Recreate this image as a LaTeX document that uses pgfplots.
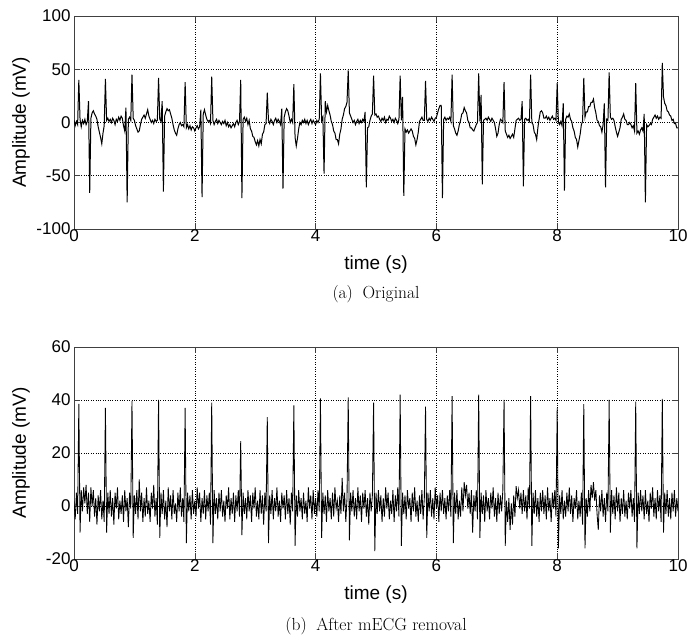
\documentclass[border=0pt]{standalone}
\usepackage{fontspec}
\usepackage{pgfplots}
\usepackage{pgfplotstable}
\pgfplotsset{compat=1.18}
\newfontfamily\helv{Liberation Sans}

% Original signal, sampled every 0.02 s from t = 0 to 10 s
\pgfplotstableread[row sep=\\, header=false]{
2\\ -3\\ 1\\ -2\\ 40\\ 3\\ -4\\ 2\\ -1\\ 3\\
-2\\ 1\\ 20\\ -66\\ 4\\ 9\\ 11\\ 8\\ 6\\ 3\\
-4\\ -9\\ -14\\ -20\\ -10\\ -3\\ 41\\ 2\\ 4\\ 1\\
3\\ 0\\ 4\\ 2\\ -2\\ 3\\ 1\\ 5\\ 2\\ 6\\
4\\ -3\\ -8\\ 14\\ -75\\ 3\\ 5\\ 2\\ 45\\ 4\\
2\\ -3\\ -6\\ -9\\ -8\\ -2\\ 3\\ 5\\ 7\\ 4\\
8\\ 12\\ 6\\ 3\\ 0\\ 2\\ -1\\ 3\\ 1\\ 2\\
42\\ 3\\ 1\\ 20\\ -65\\ 6\\ 10\\ 13\\ 11\\ 12\\
8\\ 4\\ -2\\ -7\\ -10\\ -12\\ -6\\ -2\\ 0\\ -3\\
-2\\ -4\\ 38\\ -5\\ -2\\ -6\\ -3\\ -7\\ -4\\ -5\\
-8\\ -5\\ -3\\ -6\\ -4\\ 12\\ -70\\ 8\\ 12\\ 7\\
3\\ 1\\ 2\\ -1\\ 43\\ 2\\ -2\\ 1\\ 3\\ -1\\
2\\ 0\\ -2\\ 1\\ -1\\ 2\\ -3\\ 0\\ -4\\ -2\\
-5\\ -3\\ -1\\ -4\\ 0\\ 2\\ -2\\ 1\\ 40\\ -71\\
3\\ 5\\ 1\\ 4\\ -2\\ 2\\ -6\\ -8\\ -13\\ -14\\
-18\\ -21\\ -17\\ -22\\ -16\\ -20\\ -11\\ -9\\ -2\\ -1\\
28\\ 2\\ -1\\ 3\\ 1\\ -2\\ 2\\ 4\\ 0\\ 3\\
1\\ -2\\ 13\\ -62\\ 5\\ 10\\ 13\\ 11\\ 6\\ 0\\
3\\ 0\\ 36\\ -14\\ -22\\ -15\\ -6\\ 0\\ -2\\ 2\\
0\\ 3\\ -1\\ 2\\ -2\\ 1\\ 3\\ -1\\ 2\\ 0\\
-2\\ 2\\ 0\\ 3\\ 46\\ 2\\ 5\\ -48\\ 20\\ 10\\
16\\ 11\\ 7\\ 1\\ -2\\ -8\\ -10\\ -16\\ -16\\ -20\\
-11\\ -6\\ 3\\ 7\\ 13\\ 15\\ 19\\ 49\\ 9\\ 6\\
3\\ 0\\ 2\\ -2\\ 1\\ 3\\ -1\\ 2\\ 0\\ 3\\
1\\ 10\\ -61\\ -5\\ -4\\ 2\\ 6\\ 8\\ 44\\ 7\\
8\\ 5\\ 6\\ 3\\ 1\\ 4\\ 2\\ 5\\ 0\\ 3\\
2\\ 6\\ 4\\ 1\\ 3\\ 0\\ 4\\ 2\\ -1\\ 3\\
44\\ 2\\ 24\\ -69\\ -6\\ -9\\ -7\\ -10\\ -8\\ -6\\
-8\\ -13\\ -15\\ -21\\ -16\\ -9\\ 1\\ 3\\ 5\\ 2\\
2\\ 39\\ 3\\ 1\\ 4\\ 2\\ 5\\ 3\\ 1\\ 4\\
5\\ 9\\ 13\\ 16\\ 16\\ -71\\ 3\\ 5\\ 2\\ 4\\
3\\ 5\\ 1\\ 45\\ -3\\ -6\\ -10\\ -12\\ -8\\ -2\\
2\\ 8\\ 9\\ 14\\ 11\\ 9\\ 2\\ 0\\ -5\\ -5\\
-7\\ -8\\ -5\\ -2\\ 0\\ 46\\ 1\\ 26\\ -58\\ 2\\
3\\ 4\\ 2\\ 5\\ 3\\ 1\\ 4\\ 2\\ 0\\ -6\\
-13\\ -10\\ -2\\ 3\\ 2\\ 0\\ 38\\ -8\\ -11\\ -14\\
-12\\ -15\\ -13\\ -11\\ -14\\ -6\\ 2\\ 3\\ 4\\ 2\\
3\\ 20\\ -60\\ 3\\ 4\\ 2\\ 3\\ 1\\ 45\\ 0\\
-2\\ -9\\ -11\\ -16\\ -5\\ 3\\ 10\\ 11\\ 9\\ 4\\
4\\ 6\\ 3\\ 5\\ 2\\ 4\\ 6\\ 3\\ 4\\ 2\\
37\\ 0\\ -2\\ 1\\ -3\\ 18\\ -64\\ 3\\ 6\\ 5\\
8\\ 3\\ 1\\ -5\\ -8\\ -14\\ -16\\ -23\\ -17\\ -11\\
-2\\ 1\\ 42\\ 5\\ 10\\ 10\\ 15\\ 15\\ 19\\ 19\\
22\\ 14\\ 9\\ 2\\ 1\\ -3\\ -4\\ -9\\ -2\\ 18\\
-61\\ 3\\ 2\\ 47\\ 5\\ 3\\ 4\\ 2\\ -4\\ -9\\
-13\\ -9\\ -5\\ 3\\ 5\\ 8\\ 3\\ 2\\ -2\\ -2\\
0\\ -2\\ -5\\ -3\\ -8\\ 37\\ -10\\ -8\\ -11\\ -7\\
-5\\ -8\\ 8\\ -75\\ -2\\ -4\\ -3\\ -1\\ -2\\ 3\\
5\\ 7\\ 4\\ 6\\ 3\\ 5\\ 4\\ 56\\ 24\\ 18\\
16\\ 11\\ 10\\ 7\\ 6\\ 2\\ 3\\ -1\\ -1\\ -5\\
-5\\
}\topdata

% After mECG removal, sampled every 0.02 s from t = 0 to 10 s
\pgfplotstableread[row sep=\\, header=false]{
2\\ -5\\ 5\\ -3\\ 38.5\\ -10\\ 6\\ -2\\ 7\\ 1\\
8\\ -3\\ 5\\ -6\\ 7\\ 0\\ 6\\ -4\\ 3\\ -7\\
4\\ -2\\ 6\\ -5\\ 2\\ -6\\ 37\\ -10\\ 5\\ -3\\
6\\ -4\\ 3\\ -7\\ 5\\ -1\\ 7\\ -5\\ 2\\ -3\\
4\\ -6\\ 6\\ -2\\ 3\\ -8\\ 5\\ -1\\ 39.6\\ -12\\
4\\ -3\\ 6\\ -5\\ 10\\ -2\\ 5\\ -6\\ 3\\ -4\\
7\\ -3\\ 2\\ -6\\ 5\\ -1\\ 8\\ -4\\ 3\\ -7\\
40\\ -12\\ 5\\ -3\\ 6\\ -5\\ 2\\ -8\\ 7\\ -2\\
4\\ -5\\ 6\\ -3\\ 1\\ -6\\ 5\\ -2\\ 7\\ -4\\
3\\ -6\\ 37\\ -14\\ 5\\ -2\\ 4\\ -5\\ 6\\ -3\\
2\\ -4\\ 7\\ -1\\ 5\\ -6\\ 3\\ -3\\ 6\\ -5\\
4\\ -2\\ 5\\ -7\\ 39\\ -14\\ 6\\ -3\\ 3\\ -5\\
5\\ -2\\ 6\\ -4\\ 2\\ -6\\ 4\\ -1\\ 7\\ -5\\
3\\ -3\\ 5\\ -6\\ 4\\ -2\\ 6\\ -4\\ 24.5\\ -11\\
5\\ -3\\ 3\\ -5\\ 6\\ -2\\ 4\\ -6\\ 5\\ -1\\
7\\ -4\\ 2\\ -5\\ 6\\ -3\\ 4\\ -7\\ 5\\ -2\\
33.5\\ -14\\ 4\\ -3\\ 6\\ -5\\ 3\\ -2\\ 7\\ -4\\
2\\ -6\\ 5\\ -1\\ 4\\ -5\\ 6\\ -3\\ 3\\ -7\\
5\\ -2\\ 38\\ -15\\ 4\\ -4\\ 6\\ -2\\ 3\\ -5\\
5\\ -3\\ 2\\ -6\\ 7\\ -1\\ 4\\ -5\\ 6\\ -3\\
3\\ -4\\ 6\\ -2\\ 40.6\\ -12\\ 5\\ -3\\ 4\\ -6\\
6\\ -2\\ 3\\ -5\\ 5\\ -4\\ 7\\ -1\\ 2\\ -6\\
4\\ -3\\ 10.6\\ -2\\ 5\\ -6\\ 3\\ 41\\ -13\\ 5\\
-2\\ 6\\ -4\\ 3\\ -5\\ 7\\ -2\\ 4\\ -6\\ 5\\
-1\\ 6\\ -4\\ 3\\ -7\\ 5\\ -2\\ 4\\ 39\\ -17\\
5\\ -3\\ 6\\ -2\\ 4\\ -6\\ 3\\ -4\\ 7\\ -1\\
5\\ -5\\ 2\\ -3\\ 6\\ -6\\ 4\\ -2\\ 7\\ -4\\
42\\ -15\\ 5\\ -3\\ 4\\ -5\\ 6\\ -1\\ 3\\ -6\\
5\\ -2\\ 7\\ -4\\ 2\\ -6\\ 4\\ -3\\ 6\\ -5\\
3\\ 37.5\\ -12\\ 5\\ -2\\ 6\\ -4\\ 3\\ -5\\ 7\\
-1\\ 4\\ -6\\ 5\\ -2\\ 6\\ -3\\ 3\\ -5\\ 4\\
-2\\ 6\\ -4\\ 41.5\\ -14\\ 5\\ -3\\ 6\\ -5\\ 2\\
-4\\ 7\\ -2\\ 9\\ 4\\ 8\\ -1\\ 5\\ -3\\ 6\\
-10\\ 4\\ -2\\ 6\\ -5\\ 42\\ -12\\ 5\\ -3\\ 4\\
-6\\ 6\\ -2\\ 3\\ -5\\ 5\\ -1\\ 7\\ -4\\ 3\\
-6\\ 5\\ -3\\ 4\\ -2\\ 6\\ 40\\ -15\\ 2\\ -6\\
3\\ -9\\ 1\\ -7\\ 4\\ -4\\ 7.5\\ 3\\ 6\\ -1\\
5\\ -3\\ 6\\ -2\\ 4\\ -5\\ 7\\ -1\\ 41.5\\ -15\\
5\\ -3\\ 6\\ -4\\ 3\\ -6\\ 5\\ -2\\ 6\\ -3\\
4\\ -5\\ 7\\ -2\\ 3\\ -6\\ 5\\ -1\\ 6\\ -4\\
37\\ -16\\ 4\\ -3\\ 6\\ -5\\ 2\\ -4\\ 5\\ -2\\
7\\ -3\\ 4\\ -6\\ 3\\ -1\\ 6\\ -5\\ 2\\ -4\\
5\\ -7\\ 38.4\\ -16\\ 3\\ -4\\ 6\\ -2\\ 8\\ 3\\
9\\ 2\\ 6\\ -3\\ -9\\ 4\\ -2\\ 6\\ -4\\ 3\\
-6\\ 5\\ -2\\ 40\\ -10\\ 6\\ -3\\ 4\\ -5\\ 7\\
-2\\ 5\\ -6\\ 3\\ -3\\ 6\\ -4\\ 2\\ -5\\ 5\\
-1\\ 6\\ -4\\ 3\\ -6\\ 39.4\\ -16\\ 5\\ -3\\ 6\\
-2\\ 4\\ -5\\ 6\\ -3\\ 2\\ -6\\ 5\\ -1\\ 7\\
-4\\ 3\\ -5\\ 6\\ -2\\ 4\\ -6\\ 40.4\\ -10\\ 5\\
-3\\ 6\\ -4\\ 3\\ -5\\ 5\\ -2\\ 6\\ -4\\ 3\\
-2\\
}\botdata

\pgfplotsset{
  ecg/.style={
    scale only axis,
    width=604pt,
    xmin=0, xmax=10,
    xtick={0,2,4,6,8,10},
    grid=major,
    grid style={dotted, black, line width=0.6pt},
    axis line style={black!75, line width=0.7pt},
    tick style={black!75, line width=0.6pt},
    major tick length=6pt,
    tick align=inside,
    /pgf/number format/assume math mode=true,
    tick label style={font=\helv\fontsize{17}{20}\selectfont},
    label style={font=\helv\fontsize{19}{22}\selectfont},
    xticklabel style={yshift=2.5pt},
    xlabel={time (s)},
    ylabel={Amplitude (mV)},
    ylabel style={at={(axis description cs:-0.0877,0.5)}, anchor=center},
  },
}

\begin{document}
\begin{tikzpicture}
\path[use as bounding box] (0,0) rectangle (698pt,640pt);

\begin{axis}[ecg,
  at={(74pt,411pt)}, anchor=south west,
  height=213pt,
  ymin=-100, ymax=100,
  ytick={-100,-50,0,50,100},
  xlabel style={at={(axis description cs:0.5,-0.169)}, anchor=center},
]
\addplot[black, line width=1pt, no markers]
  table[x expr=\coordindex*0.02, y index=0] {\topdata};
\end{axis}

\begin{axis}[ecg,
  at={(74pt,81pt)}, anchor=south west,
  height=212pt,
  ymin=-20, ymax=60,
  ytick={-20,0,20,40,60},
  xlabel style={at={(axis description cs:0.5,-0.170)}, anchor=center},
]
\addplot[black, line width=0.85pt, no markers]
  table[x expr=\coordindex*0.02, y index=0] {\botdata};
\end{axis}

\node[font=\fontsize{17.5}{21}\selectfont] at (376pt,346pt) {(a)\hspace{0.55em}Original};
\node[font=\fontsize{17.5}{21}\selectfont] at (376pt,14pt) {(b)\hspace{0.55em}After mECG removal};
\end{tikzpicture}
\end{document}
